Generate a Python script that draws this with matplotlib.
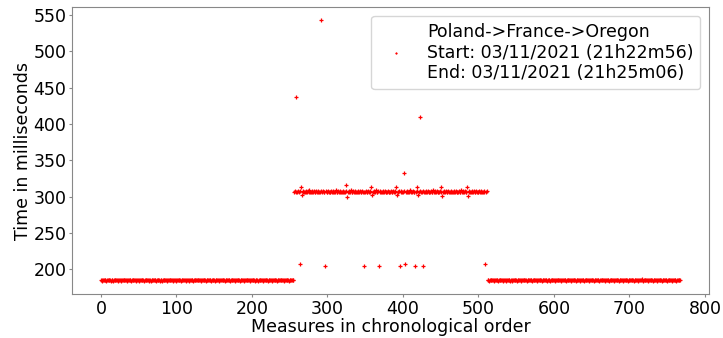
import numpy as np
import matplotlib
matplotlib.use("Agg")
import matplotlib.pyplot as plt

# round-trip times (ms), one value per measure, in chronological order
rtt_before = [
    185, 185, 184, 185, 186, 185, 185, 184, 185, 185, 185, 186, 185, 184, 185, 185,
    184, 185, 185, 186, 185, 185, 184, 185, 185, 185, 184, 185, 186, 185, 185, 185,
    185, 186, 185, 184, 185, 185, 185, 185, 184, 185, 186, 185, 185, 185, 184, 185,
    185, 185, 185, 184, 185, 186, 185, 185, 185, 184, 185, 185, 186, 185, 185, 184,
    186, 185, 184, 185, 185, 185, 185, 186, 185, 184, 185, 185, 185, 185, 184, 185,
    185, 184, 185, 185, 186, 185, 185, 185, 184, 185, 185, 186, 185, 185, 185, 184,
    185, 185, 186, 185, 184, 185, 185, 185, 186, 185, 184, 185, 185, 185, 185, 186,
    184, 185, 185, 185, 185, 184, 186, 185, 185, 185, 184, 185, 185, 186, 185, 185,
    185, 186, 185, 185, 184, 185, 185, 185, 185, 186, 185, 184, 185, 185, 185, 185,
    185, 185, 184, 186, 185, 185, 185, 184, 185, 185, 186, 185, 185, 184, 185, 185,
    186, 185, 185, 185, 184, 185, 185, 186, 185, 185, 185, 184, 185, 186, 185, 185,
    185, 184, 185, 185, 185, 186, 185, 185, 184, 185, 185, 185, 186, 185, 184, 185,
    185, 185, 186, 185, 185, 184, 185, 185, 185, 185, 186, 185, 184, 185, 185, 185,
    184, 185, 185, 185, 186, 185, 185, 184, 185, 186, 185, 185, 185, 184, 185, 185,
    185, 186, 184, 185, 185, 185, 185, 185, 186, 184, 185, 185, 185, 186, 185, 185,
    185, 185, 185, 184, 185, 186, 185, 185, 185, 184, 185, 185, 186, 185, 185, 185,
]

rtt_detour = [
    307, 308, 437, 307, 306, 308, 307, 207, 308, 314, 302, 307, 308, 306, 307, 308,
    307, 306, 308, 307, 309, 307, 306, 308, 307, 307, 308, 306, 307, 308, 307, 306,
    308, 307, 306, 308, 543, 307, 308, 306, 307, 205, 308, 307, 306, 308, 307, 307,
    306, 308, 307, 307, 308, 306, 307, 309, 307, 306, 308, 307, 307, 308, 306, 307,
    307, 308, 306, 307, 308, 316, 300, 307, 306, 308, 307, 309, 306, 307, 308, 307,
    308, 307, 306, 307, 308, 306, 307, 308, 307, 306, 308, 307, 307, 205, 306, 308,
    307, 306, 308, 307, 306, 308, 313, 302, 307, 308, 306, 307, 309, 307, 306, 308,
    205, 307, 308, 306, 307, 308, 307, 306, 308, 307, 307, 306, 308, 307, 306, 307,
    308, 306, 307, 308, 307, 306, 308, 313, 302, 307, 306, 308, 205, 307, 308, 306,
    307, 308, 332, 207, 306, 308, 307, 306, 307, 308, 309, 306, 307, 308, 307, 306,
    205, 307, 308, 313, 303, 307, 410, 308, 306, 307, 308, 204, 307, 306, 308, 307,
    306, 308, 307, 307, 306, 308, 307, 306, 309, 307, 308, 306, 307, 308, 307, 306,
    307, 308, 306, 313, 301, 307, 308, 306, 307, 308, 307, 306, 308, 307, 307, 306,
    308, 307, 306, 308, 307, 306, 308, 307, 307, 306, 308, 307, 306, 309, 307, 308,
    307, 306, 308, 307, 306, 313, 301, 307, 308, 306, 307, 308, 307, 306, 308, 307,
    306, 308, 307, 307, 306, 308, 307, 306, 308, 307, 306, 308, 307, 207, 306, 308,
]

rtt_after = [
    185, 185, 184, 185, 185, 186, 185, 185, 184, 185, 185, 185, 186, 185, 184, 185,
    185, 186, 185, 185, 184, 185, 185, 185, 185, 184, 186, 185, 185, 185, 184, 185,
    184, 185, 185, 186, 185, 185, 185, 184, 185, 185, 186, 185, 185, 184, 185, 185,
    185, 185, 186, 185, 184, 185, 185, 185, 185, 186, 185, 184, 185, 185, 185, 186,
    185, 184, 185, 185, 185, 186, 185, 185, 184, 185, 185, 185, 186, 185, 185, 184,
    186, 185, 185, 184, 185, 185, 185, 186, 185, 185, 184, 185, 185, 185, 186, 185,
    185, 185, 184, 185, 186, 185, 185, 185, 184, 185, 186, 185, 185, 185, 185, 184,
    185, 186, 185, 185, 185, 184, 185, 185, 186, 185, 184, 185, 185, 185, 186, 185,
    184, 185, 185, 186, 185, 185, 185, 184, 185, 185, 186, 185, 185, 184, 185, 185,
    185, 185, 186, 185, 184, 185, 185, 185, 186, 185, 185, 184, 185, 185, 185, 186,
    185, 184, 185, 185, 186, 185, 185, 185, 184, 185, 186, 185, 185, 185, 184, 185,
    186, 185, 185, 184, 185, 185, 186, 185, 185, 185, 184, 185, 186, 185, 185, 185,
    185, 185, 184, 185, 186, 185, 185, 185, 184, 185, 185, 186, 187, 185, 184, 185,
    185, 186, 185, 185, 184, 185, 185, 186, 185, 185, 185, 184, 185, 185, 186, 185,
    184, 185, 185, 185, 186, 185, 185, 184, 185, 185, 186, 185, 185, 185, 184, 185,
    185, 185, 186, 185, 184, 185, 185, 185, 186, 185, 184, 185, 185, 185, 185, 185,
]

route_label = ("Poland->France->Oregon\n"
               "Start: 03/11/2021 (21h22m56)\n"
               "End: 03/11/2021 (21h25m06)")

times = np.array(rtt_before + rtt_detour + rtt_after)
measures = np.arange(len(times))

plt.rcParams.update({"font.size": 12.5})
fig = plt.figure(figsize=(7.23, 3.38), dpi=100)
ax = fig.add_axes([0.0996, 0.130, 0.881, 0.849])
ax.plot(measures, times, "r+", markersize=3.2, markeredgewidth=0.9, label=route_label)
ax.set_xlabel("Measures in chronological order", labelpad=0)
ax.set_ylabel("Time in milliseconds", labelpad=1)
for s in ax.spines.values():
    s.set_color("#888888")
ax.tick_params(color="#888888", length=2, pad=2)
ax.legend(loc="upper right", markerscale=0.6)
fig.savefig("out.png", dpi=100)
